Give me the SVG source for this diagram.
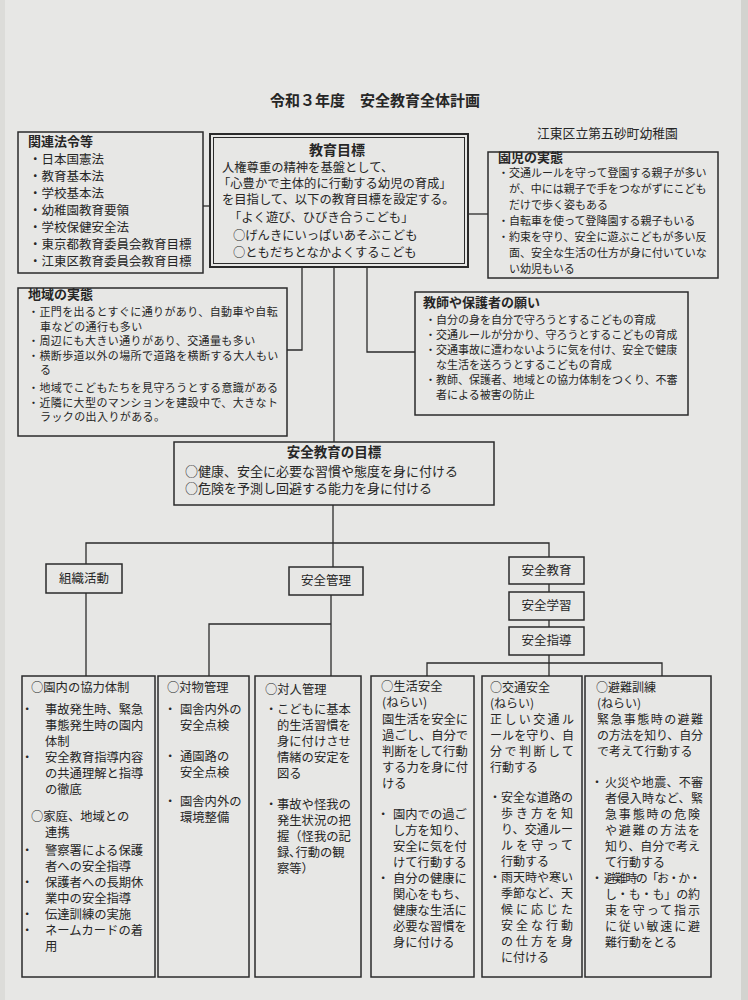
<svg xmlns="http://www.w3.org/2000/svg" width="748" height="1000" viewBox="0 0 748 1000">
<style>
text{font-family:"Noto Sans CJK JP","Noto Sans CJK SC",sans-serif;fill:#262626}
.b{font-weight:bold}
.box{fill:none;stroke:#2b2b2b;stroke-width:1.5}
#connectors line,#connectors polyline{stroke:#2b2b2b;stroke-width:1.3;fill:none}
.s11{font-size:11px}.s11w{font-size:11px;letter-spacing:0.4px}.s12{font-size:12px}.s123{font-size:12.3px}.s125{font-size:12.5px}.s13{font-size:13px}
</style>
<rect x="0" y="0" width="748" height="1000" fill="#e7e7e5"/>
<rect x="741" y="0" width="7" height="1000" fill="#d3d3cf"/>
<rect x="0" y="0" width="5" height="1000" fill="#dcdcd9"/>

<g id="title">
<text x="375" y="106" text-anchor="middle" class="b" font-size="15">令和３年度　安全教育全体計画</text>
<text x="537" y="138" font-size="12.8">江東区立第五砂町幼稚園</text>
</g>

<g id="connectors">
<line x1="203" y1="206" x2="210" y2="206"/>
<line x1="468" y1="214" x2="488" y2="214"/>
<polyline points="302,267 302,350 287,350"/>
<line x1="334" y1="267" x2="334" y2="442"/>
<polyline points="367,267 367,352 415,352"/>
<line x1="333" y1="505" x2="333" y2="567"/>
<polyline points="86,564 86,543 549,543 549,557"/>
<line x1="549" y1="584" x2="549" y2="592"/>
<line x1="549" y1="620" x2="549" y2="627"/>
<line x1="86" y1="593" x2="86" y2="676"/>
<line x1="331" y1="595" x2="331" y2="676"/>
<polyline points="331,624 209,624 209,676"/>
<line x1="549" y1="655" x2="549" y2="676"/>
<polyline points="427,676 427,663 662,663 662,676"/>
</g>

<g id="kanren">
<rect x="18" y="132" width="185" height="141" class="box"/>
<text x="28" y="146" class="b s13">関連法令等</text>
<g class="s125">
<text x="29" y="164">・日本国憲法</text>
<text x="29" y="181">・教育基本法</text>
<text x="29" y="198">・学校基本法</text>
<text x="29" y="215">・幼稚園教育要領</text>
<text x="29" y="232">・学校保健安全法</text>
<text x="29" y="249">・東京都教育委員会教育目標</text>
<text x="29" y="266">・江東区教育委員会教育目標</text>
</g>
</g>

<g id="kyouiku-mokuhyou">
<rect x="210" y="134" width="258" height="133" fill="none" stroke="#2b2b2b" stroke-width="2"/>
<rect x="213.5" y="137.5" width="251" height="126" fill="none" stroke="#2b2b2b" stroke-width="1"/>
<text x="337" y="155" text-anchor="middle" class="b" font-size="14">教育目標</text>
<g class="s123">
<text x="222" y="171.5">人権尊重の精神を基盤として、</text>
<text x="218" y="187.5">「心豊かで主体的に行動する幼児の育成」</text>
<text x="222" y="203.5">を目指して、以下の教育目標を設定する。</text>
<text x="229" y="221.5">「よく遊び、ひびき合うこども」</text>
<text x="233" y="239.5">○げんきにいっぱいあそぶこども</text>
<text x="233" y="256.5">○ともだちとなかよくするこども</text>
</g>
</g>

<g id="enji">
<rect x="488" y="152" width="230" height="126" class="box"/>
<text x="498" y="161.5" class="b s13">園児の実態</text>
<g class="s11">
<text x="498" y="177">・交通ルールを守って登園する親子が多い</text>
<text x="509" y="193">が、中には親子で手をつながずにこども</text>
<text x="509" y="209">だけで歩く姿もある</text>
<text x="498" y="225">・自転車を使って登降園する親子もいる</text>
<text x="498" y="241">・約束を守り、安全に遊ぶこどもが多い反</text>
<text x="509" y="257">面、安全な生活の仕方が身に付いていな</text>
<text x="509" y="273">い幼児もいる</text>
</g>
</g>

<g id="chiiki">
<rect x="18" y="288" width="269" height="148" class="box"/>
<text x="28" y="299" class="b s13">地域の実態</text>
<g class="s11w">
<text x="28" y="316">・正門を出るとすぐに通りがあり、自動車や自転</text>
<text x="40" y="330.5">車などの通行も多い</text>
<text x="28" y="345">・周辺にも大きい通りがあり、交通量も多い</text>
<text x="28" y="359.5">・横断歩道以外の場所で道路を横断する大人もい</text>
<text x="40" y="374">る</text>
<text x="28" y="392">・地域でこどもたちを見守ろうとする意識がある</text>
<text x="28" y="406.5">・近隣に大型のマンションを建設中で、大きなト</text>
<text x="40" y="421">ラックの出入りがある。</text>
</g>
</g>

<g id="negai">
<rect x="415" y="292" width="273" height="123" class="box"/>
<text x="423" y="307" class="b s13">教師や保護者の願い</text>
<g class="s11">
<text x="425" y="324">・自分の身を自分で守ろうとするこどもの育成</text>
<text x="425" y="339">・交通ルールが分かり、守ろうとするこどもの育成</text>
<text x="425" y="354">・交通事故に遭わないように気を付け、安全で健康</text>
<text x="436" y="369">な生活を送ろうとするこどもの育成</text>
<text x="425" y="384">・教師、保護者、地域との協力体制をつくり、不審</text>
<text x="436" y="399">者による被害の防止</text>
</g>
</g>

<g id="anzen-mokuhyou">
<rect x="174" y="442" width="320" height="63" class="box"/>
<text x="334" y="457" text-anchor="middle" class="b" font-size="13.5">安全教育の目標</text>
<g class="s13">
<text x="185" y="476">○健康、安全に必要な習慣や態度を身に付ける</text>
<text x="185" y="493">○危険を予測し回避する能力を身に付ける</text>
</g>
</g>

<g id="soshiki">
<rect x="46" y="564" width="76" height="29" class="box"/>
<text x="84" y="583" text-anchor="middle" class="s125">組織活動</text>
</g>
<g id="kanri">
<rect x="289" y="567" width="74" height="28" class="box"/>
<text x="326" y="585" text-anchor="middle" class="s125">安全管理</text>
</g>
<g id="anzen-kyouiku">
<rect x="509" y="557" width="75" height="27" class="box"/>
<text x="546.5" y="575" text-anchor="middle" class="s125">安全教育</text>
</g>
<g id="anzen-gakushu">
<rect x="509" y="592" width="75" height="28" class="box"/>
<text x="546.5" y="610" text-anchor="middle" class="s125">安全学習</text>
</g>
<g id="anzen-shidou">
<rect x="509" y="627" width="75" height="28" class="box"/>
<text x="546.5" y="645" text-anchor="middle" class="s125">安全指導</text>
</g>

<g id="ennai" class="s123">
<rect x="22" y="676" width="133" height="301" class="box"/>
<text x="31" y="692">○園内の協力体制</text>
<text x="21" y="714">・<tspan x="45">事故発生時、緊急</tspan></text>
<text x="45" y="730">事態発生時の園内</text>
<text x="45" y="746">体制</text>
<text x="21" y="762">・<tspan x="45">安全教育指導内容</tspan></text>
<text x="45" y="778">の共通理解と指導</text>
<text x="45" y="794">の徹底</text>
<text x="31" y="821">○家庭、地域との</text>
<text x="45" y="837">連携</text>
<text x="21" y="855">・<tspan x="45">警察署による保護</tspan></text>
<text x="45" y="871">者への安全指導</text>
<text x="21" y="887">・<tspan x="45">保護者への長期休</tspan></text>
<text x="45" y="903">業中の安全指導</text>
<text x="21" y="919">・<tspan x="45">伝達訓練の実施</tspan></text>
<text x="21" y="935">・<tspan x="45">ネームカードの着</tspan></text>
<text x="45" y="951">用</text>
</g>

<g id="taibutsu" class="s123">
<rect x="158" y="676" width="91" height="301" class="box"/>
<text x="167" y="692">○対物管理</text>
<text x="164" y="714">・<tspan x="180">園舎内外の</tspan></text>
<text x="180" y="730">安全点検</text>
<text x="164" y="761">・<tspan x="180">通園路の</tspan></text>
<text x="180" y="777">安全点検</text>
<text x="164" y="806">・<tspan x="180">園舎内外の</tspan></text>
<text x="180" y="822">環境整備</text>
</g>

<g id="taijin" class="s123">
<rect x="255" y="676" width="106" height="301" class="box"/>
<text x="265" y="694">○対人管理</text>
<text x="265" y="714">・<tspan x="277">こどもに基本</tspan></text>
<text x="277" y="730">的生活習慣を</text>
<text x="277" y="746">身に付けさせ</text>
<text x="277" y="762">情緒の安定を</text>
<text x="277" y="778">図る</text>
<text x="265" y="809">・<tspan x="277">事故や怪我の</tspan></text>
<text x="277" y="825">発生状況の把</text>
<text x="277" y="841">握（怪我の記</text>
<text x="277" y="857">録､行動の観</text>
<text x="277" y="873">察等）</text>
</g>

<g id="seikatsu" class="s123">
<rect x="371" y="676" width="103" height="301" class="box"/>
<text x="381" y="691">○生活安全</text>
<text x="382" y="707">(ねらい)</text>
<text x="382" y="724">園生活を安全に</text>
<text x="382" y="740">過ごし、自分で</text>
<text x="382" y="756">判断をして行動</text>
<text x="382" y="772">する力を身に付</text>
<text x="382" y="788">ける</text>
<text x="377" y="819">・<tspan x="393">園内での過ご</tspan></text>
<text x="393" y="835">し方を知り、</text>
<text x="393" y="851">安全に気を付</text>
<text x="393" y="867">けて行動する</text>
<text x="377" y="883">・<tspan x="393">自分の健康に</tspan></text>
<text x="393" y="899">関心をもち、</text>
<text x="393" y="915">健康な生活に</text>
<text x="393" y="931">必要な習慣を</text>
<text x="393" y="947">身に付ける</text>
</g>

<g id="koutsu" class="s12">
<rect x="482" y="676" width="100" height="301" class="box"/>
<text x="490" y="692">○交通安全</text>
<text x="490" y="708">(ねらい)</text>
<text x="490" y="724" textLength="84" lengthAdjust="spacing">正しい交通ル</text>
<text x="490" y="740" textLength="84" lengthAdjust="spacing">ールを守り、自</text>
<text x="490" y="756" textLength="84" lengthAdjust="spacing">分で判断して</text>
<text x="490" y="772">行動する</text>
<text x="489" y="802">・<tspan x="501" textLength="72" lengthAdjust="spacing">安全な道路の</tspan></text>
<text x="501" y="818" textLength="72" lengthAdjust="spacing">歩き方を知</text>
<text x="501" y="834" textLength="72" lengthAdjust="spacing">り、交通ルー</text>
<text x="501" y="850" textLength="72" lengthAdjust="spacing">ルを守って</text>
<text x="501" y="866">行動する</text>
<text x="489" y="882">・<tspan x="501" textLength="72" lengthAdjust="spacing">雨天時や寒い</tspan></text>
<text x="501" y="898" textLength="72" lengthAdjust="spacing">季節など、天</text>
<text x="501" y="914" textLength="72" lengthAdjust="spacing">候に応じた</text>
<text x="501" y="930" textLength="72" lengthAdjust="spacing">安全な行動</text>
<text x="501" y="946" textLength="72" lengthAdjust="spacing">の仕方を身</text>
<text x="501" y="962">に付ける</text>
</g>

<g id="hinan" class="s12">
<rect x="585" y="676" width="126" height="301" class="box"/>
<text x="596" y="692">○避難訓練</text>
<text x="597" y="708">(ねらい)</text>
<text x="597" y="724" textLength="106" lengthAdjust="spacing">緊急事態時の避難</text>
<text x="597" y="740" textLength="106" lengthAdjust="spacing">の方法を知り、自分</text>
<text x="597" y="756">で考えて行動する</text>
<text x="591" y="787">・<tspan x="605" textLength="98" lengthAdjust="spacing">火災や地震、不審</tspan></text>
<text x="605" y="803" textLength="98" lengthAdjust="spacing">者侵入時など、緊</text>
<text x="605" y="819" textLength="95" lengthAdjust="spacing">急事態時の危険</text>
<text x="605" y="835" textLength="95" lengthAdjust="spacing">や避難の方法を</text>
<text x="605" y="851" textLength="95" lengthAdjust="spacing">知り、自分で考え</text>
<text x="605" y="867">て行動する</text>
<text x="591" y="883">・<tspan x="604" textLength="97" lengthAdjust="spacing">避難時の「お・か・</tspan></text>
<text x="605" y="899" textLength="95" lengthAdjust="spacing">し・も・も」の約</text>
<text x="605" y="915" textLength="95" lengthAdjust="spacing">束を守って指示</text>
<text x="605" y="931" textLength="95" lengthAdjust="spacing">に従い敏速に避</text>
<text x="605" y="947">難行動をとる</text>
</g>
</svg>
